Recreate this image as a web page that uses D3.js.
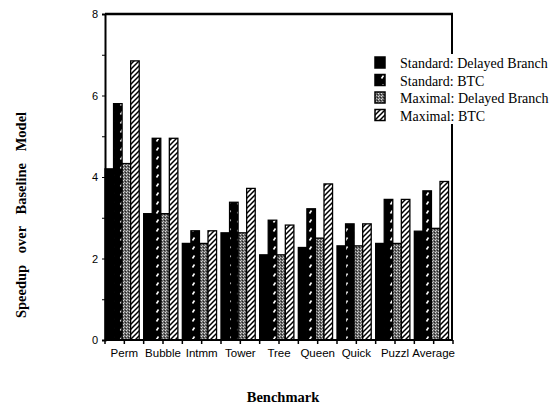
<!DOCTYPE html>
<html><head><meta charset="utf-8">
<script src="https://cdn.jsdelivr.net/npm/d3@7"></script>
<style>body{margin:0;background:#fff}svg{display:block}</style>
</head><body>
<script>
const categories = ["Perm","Bubble","Intmm","Tower","Tree","Queen","Quick","Puzzl","Average"];
const seriesNames = ["Standard: Delayed Branch","Standard: BTC","Maximal: Delayed Branch","Maximal: BTC"];
const stdDelayed = [4.2, 3.1, 2.37, 2.63, 2.09, 2.27, 2.31, 2.37, 2.67];
const stdBTC     = [5.8, 4.95, 2.68, 3.38, 2.94, 3.22, 2.85, 3.45, 3.66];
const maxDelayed = [4.33, 3.1, 2.37, 2.63, 2.09, 2.5, 2.31, 2.37, 2.74];
const maxBTC     = [6.85, 4.95, 2.68, 3.72, 2.82, 3.83, 2.85, 3.45, 3.89];
const yTicks = [0,2,4,6,8];
const series = [stdDelayed, stdBTC, maxDelayed, maxBTC];

(function(){
const W=554,H=409;
const svg=d3.select("body").append("svg").attr("width",W).attr("height",H);
const defs=svg.append("defs");
const p1=defs.append("pattern").attr("id","pBTC").attr("patternUnits","userSpaceOnUse").attr("width",9).attr("height",9);
p1.append("rect").attr("width",9).attr("height",9).attr("fill","#000");
p1.append("path").attr("d","M3.5,6.5 L5.5,3.5").attr("stroke","#fff").attr("stroke-width",1.6);
const p2=defs.append("pattern").attr("id","pMD").attr("patternUnits","userSpaceOnUse").attr("width",3).attr("height",3);
p2.append("rect").attr("width",3).attr("height",3).attr("fill","#6a6a6a");
p2.append("rect").attr("x",0).attr("y",0).attr("width",1).attr("height",1).attr("fill","#ddd");
p2.append("rect").attr("x",2).attr("y",1).attr("width",1).attr("height",1).attr("fill","#222");
p2.append("rect").attr("x",1).attr("y",2).attr("width",1).attr("height",1).attr("fill","#bbb");
const p3=defs.append("pattern").attr("id","pMB").attr("patternUnits","userSpaceOnUse").attr("width",5).attr("height",5);
p3.append("rect").attr("width",5).attr("height",5).attr("fill","#fff");
p3.append("path").attr("d","M-1,6 L6,-1 M-1,1 L1,-1 M4,6 L6,4").attr("stroke","#000").attr("stroke-width",1.5);
const fills=["#000","url(#pBTC)","url(#pMD)","url(#pMB)"];

const pL=105,pR=453,pT=14,pB=340;
const y=d3.scaleLinear().domain([0,8]).range([pB,pT]);
const x0=d3.scaleBand().domain(categories).range([pL,pR]).padding(0);
const x1=d3.scaleBand().domain(d3.range(4)).range([0,x0.bandwidth()*0.885]).padding(0);

const g=svg.append("g");
categories.forEach((c,i)=>{
  series.forEach((s,j)=>{
    g.append("rect").attr("x",x0(c)+x1(j)).attr("y",y(s[i]))
      .attr("width",x1.bandwidth()).attr("height",y(0)-y(s[i]))
      .attr("fill",fills[j]).attr("stroke","#000").attr("stroke-width",1.3);
  });
});

svg.append("line").attr("x1",pL).attr("x2",pR).attr("y1",pT).attr("y2",pT).attr("stroke","#000").attr("stroke-width",2.5);
svg.append("line").attr("x1",pR-1).attr("x2",pR-1).attr("y1",pT).attr("y2",pB).attr("stroke","#000").attr("stroke-width",2);

const yAxis=d3.axisLeft(y).tickValues(d3.range(0,9)).tickSize(3).tickFormat(d=>yTicks.includes(d)?d:"");
const ya=svg.append("g").attr("transform",`translate(${pL},0)`).call(yAxis);
ya.select(".domain").attr("stroke-width",2);
ya.selectAll("text").attr("font-family","Liberation Sans, Arial, sans-serif").attr("font-size",11).attr("fill","#000").attr("dx",-1);

const xa=svg.append("g").attr("transform",`translate(0,${pB})`);
xa.append("line").attr("x1",pL).attr("x2",pR).attr("stroke","#000").attr("stroke-width",2);
const tickPos=[];
categories.forEach(c=>{tickPos.push(x0(c));tickPos.push(x0(c)+x0.bandwidth()/2);});
tickPos.push(pR);
xa.selectAll("line.t").data(tickPos).join("line").attr("class","t").attr("x1",d=>d).attr("x2",d=>d).attr("y1",0).attr("y2",4).attr("stroke","#000").attr("stroke-width",1.5);
xa.selectAll("text").data(categories).join("text").attr("x",c=>x0(c)+x0.bandwidth()/2).attr("y",17)
  .attr("text-anchor","middle").attr("font-family","Liberation Sans, Arial, sans-serif").attr("font-size",11.5).text(c=>c);

svg.append("text").attr("transform","translate(26,215) rotate(-90)").attr("text-anchor","middle")
  .attr("font-family","Liberation Serif, Times New Roman, serif").attr("font-weight","bold").attr("font-size",14.5)
  .attr("word-spacing",8).text("Speedup over Baseline Model");
svg.append("text").attr("x",283).attr("y",402).attr("text-anchor","middle")
  .attr("font-family","Liberation Serif, Times New Roman, serif").attr("font-weight","bold").attr("font-size",14.5)
  .text("Benchmark");

const lg=svg.append("g");
lg.append("rect").attr("x",372).attr("y",54).attr("width",182).attr("height",70).attr("fill","#fff");
seriesNames.forEach((n,j)=>{
  const yy=63+j*17.5;
  lg.append("rect").attr("x",375).attr("y",yy-6).attr("width",10).attr("height",11).attr("fill",fills[j]).attr("stroke","#000").attr("stroke-width",1.5);
  lg.append("text").attr("x",400).attr("y",yy+5).attr("font-family","Liberation Serif, Times New Roman, serif").attr("font-size",14).text(n);
});
})();
</script>
</body></html>
